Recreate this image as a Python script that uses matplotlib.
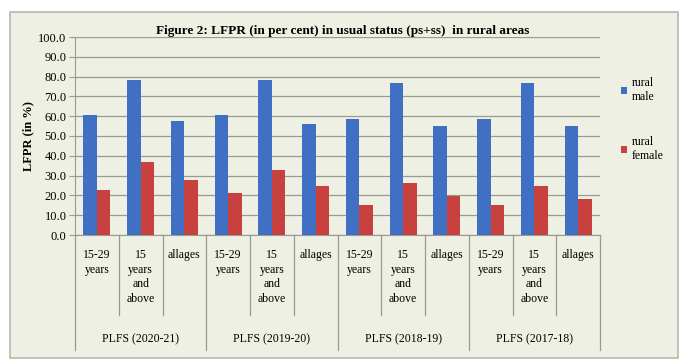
import numpy as np
import matplotlib.pyplot as plt
from matplotlib.patches import Rectangle
from matplotlib.transforms import blended_transform_factory

# Data
groups = ["PLFS (2020-21)", "PLFS (2019-20)", "PLFS (2018-19)", "PLFS (2017-18)"]
sub_labels = ["15-29\nyears", "15\nyears\nand\nabove", "allages"]
rural_male = [60.8, 78.4, 57.5, 60.8, 78.3, 56.3, 58.4, 76.8, 55.1, 58.4, 76.6, 54.9]
rural_female = [22.5, 36.9, 27.7, 21.2, 33.0, 24.7, 15.4, 26.4, 19.7, 15.3, 24.6, 18.2]
yticks = [0, 10, 20, 30, 40, 50, 60, 70, 80, 90, 100]

blue = "#3f70c4"
red = "#c8413f"
bg = "#eef0e3"
line_c = "#9a9a94"

plt.rcParams['font.family'] = ['Liberation Serif', 'DejaVu Serif']

fig = plt.figure(figsize=(6.82, 3.60), dpi=100)
fig.patch.set_facecolor("white")
fig.patches.append(Rectangle((10 / 682, 2 / 360), 668 / 682, 346 / 360, transform=fig.transFigure,
                             facecolor=bg, edgecolor="#b8b8b0", linewidth=1.2, zorder=-10))

# plot area: x 75..600, y 37..235 (pixels from top)
ax = fig.add_axes([75 / 682, 125 / 360, 525 / 682, 198 / 360])
ax.set_facecolor(bg)

n = len(rural_male)
x = np.arange(n)
w = 0.31
ax.bar(x - w / 2, rural_male, w, color=blue, label="rural\nmale", zorder=3)
ax.bar(x + w / 2, rural_female, w, color=red, label="rural\nfemale", zorder=3)

ax.set_xlim(-0.5, n - 0.5)
ax.set_ylim(0, 100)
ax.set_yticks(yticks)
ax.set_yticklabels([f"{v:.1f}" for v in yticks], fontsize=9)
ax.yaxis.grid(True, color=line_c, linewidth=0.9, zorder=0)
ax.set_xticks([])
for s in ["top", "right"]:
    ax.spines[s].set_visible(False)
ax.spines["left"].set_color(line_c)
ax.spines["bottom"].set_color(line_c)
ax.tick_params(axis="y", length=4, color=line_c, pad=2)

ax.set_ylabel("LFPR (in %)", fontsize=9, fontweight="bold", labelpad=3)
ax.set_title("Figure 2: LFPR (in per cent) in usual status (ps+ss)  in rural areas",
             fontsize=9.5, fontweight="bold", pad=2, x=0.51)

# hierarchical category axis
trans = blended_transform_factory(ax.transData, ax.transAxes)
sub_h = -80 / 198
grp_h = -115 / 198
for i in range(n + 1):
    xb = i - 0.5
    depth = grp_h if i % 3 == 0 else sub_h
    ax.plot([xb, xb], [0, depth], transform=trans, color=line_c, linewidth=0.9, clip_on=False)
for i in range(n):
    ax.text(x[i], -14 / 198, sub_labels[i % 3], transform=trans, ha="center", va="top",
            fontsize=8.5, linespacing=1.3)
for g, name in enumerate(groups):
    ax.text(3 * g + 1, -104 / 198, name, transform=trans, ha="center", va="center", fontsize=8.5)

leg = ax.legend(loc="upper left", bbox_to_anchor=(1.02, 0.85), frameon=False, fontsize=8.5,
                handlelength=0.5, handleheight=0.5, handletextpad=0.4, labelspacing=2.8)

fig.savefig("out.png", dpi=100, facecolor=fig.get_facecolor())
